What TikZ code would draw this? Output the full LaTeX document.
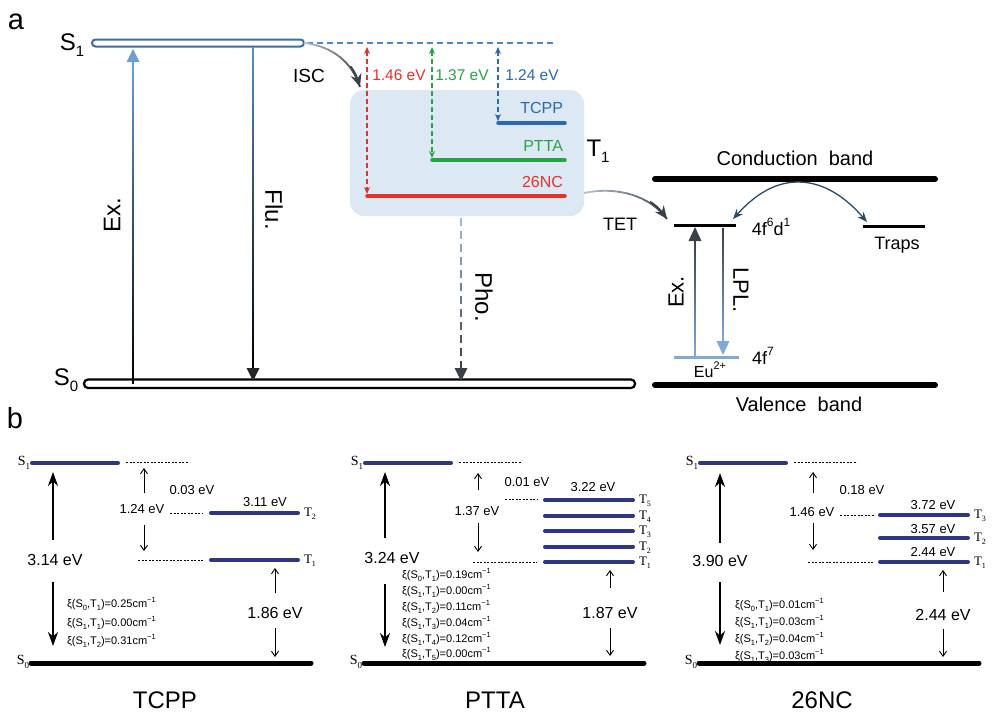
\documentclass[tikz,border=0pt]{standalone}
\usepackage{fontspec}
\setmainfont{Liberation Sans}
\newfontfamily\tnr{Liberation Serif}
\usetikzlibrary{arrows.meta,calc}
\definecolor{sbar}{HTML}{3C6CA5}
\definecolor{dashb}{HTML}{4C88C8}
\definecolor{exb}{HTML}{6AA0D8}
\definecolor{flub}{HTML}{5A8DC8}
\definecolor{boxc}{HTML}{DCE8F4}
\definecolor{cred}{HTML}{E4312C}
\definecolor{cgreen}{HTML}{26A445}
\definecolor{cblue}{HTML}{2B68AE}
\definecolor{navy}{HTML}{2F3585}
\definecolor{arcc}{HTML}{2B4A66}
\definecolor{eub}{HTML}{7EAAD4}
\definecolor{darkg}{HTML}{3A404A}
\definecolor{lightg}{HTML}{B4BEC8}
\definecolor{phob}{HTML}{9DB9D6}
\newcommand{\upx}[2]{\raisebox{0.5em}{\fontsize{#1}{#1}\selectfont #2}}
\newcommand{\dnx}[2]{\raisebox{-0.25em}{\fontsize{#1}{#1}\selectfont #2}}
\newcommand{\xiline}[3]{ξ(S\dnx{7.5}{#1},T\dnx{7.5}{#2})=#3cm\upx{7.5}{−1}}
\tikzset{
  fs/.style={font=\fontsize{#1}{#1}\selectfont},
  lvl/.style={line width=3.5pt, line cap=round},
  darr/.style={line width=1.4pt, dash pattern=on 5pt off 3pt,
    {Stealth[length=7pt,width=6pt]}-{Stealth[length=7pt,width=6pt]}},
  tbar/.style={navy, line width=4pt, line cap=round},
  s0bar/.style={black, line width=5pt, line cap=round},
  fdash/.style={black, line width=0.8pt, dash pattern=on 2.2pt off 1.3pt},
  bigarr/.style={line width=2.2pt, -{Stealth[length=14pt,width=10pt]}},
  smarr/.style={line width=0.9pt, -{Straight Barb[length=5pt,width=7pt]}},
  serlab/.style={font=\tnr\fontsize{14}{14}\selectfont},
  tlab/.style={font=\tnr\fontsize{13}{13}\selectfont, anchor=west},
  xil/.style={font=\fontsize{11}{11}\selectfont, anchor=west},
  ev/.style={fs=13},
  evb/.style={fs=16},
  mol/.style={fs=24}
}
\begin{document}
\begin{tikzpicture}[x=1pt,y=-1pt,inner sep=0pt,outer sep=0pt]
\useasboundingbox (0,0) rectangle (995,720);
\fill[white] (0,0) rectangle (995,720);

%% ---------------- panel a ----------------
\node[fs=29] (la) at (16,22) {a};
\node[fs=24] (s1lab) at (72,45) {S\dnx{15}{1}};
\draw[sbar, line width=2pt, fill=white, rounded corners=3.5pt] (92,39.5) rectangle (304,46.5);
\coordinate (S1e) at (304,43);
\draw[dashb, line width=2pt, dash pattern=on 6pt off 4pt] (307,43) -- (557,43);

% S0 bar
\draw[black, line width=2.2pt, fill=white, rounded corners=4pt] (84,379.5) rectangle (635,388);
\node[fs=24] (s0lab) at (66,380) {S\dnx{15}{0}};

% Ex. (gradient)
\shade[bottom color=black, top color=exb] (132.2,61) rectangle (133.8,383);
\fill[exb] (126.5,62) -- (139.5,62) -- (133,49) -- cycle;
\node[fs=24, rotate=90] (exlab) at (112,215) {Ex.};

% Flu.
\shade[top color=flub, bottom color=black] (252.2,47) rectangle (253.8,369);
\fill[black!85] (246.5,368) -- (259.5,368) -- (253,381) -- cycle;
\node[fs=24, rotate=-90] (flulab) at (274,210) {Flu.};

% ISC curve
\node[fs=19] (isc) at (309,76) {ISC};
\foreach \i in {0,...,9}{
  \pgfmathtruncatemacro\pc{100-\i*10}
  \begin{scope}
    \clip (304+\i*6,30) rectangle (310.5+\i*6,100);
    \draw[line width=1.8pt, lightg!\pc!darkg] (S1e) .. controls (332,46) and (352,62) .. (360,87);
  \end{scope}
}
\begin{scope}
  \clip (350,66) rectangle (380,100);
  \draw[darkg, line width=1.8pt, -{Stealth[length=13pt,width=11pt]}] (S1e) .. controls (332,46) and (352,62) .. (360,87);
\end{scope}

% T1 box
\fill[boxc, rounded corners=14pt] (350,90) rectangle (584,216);
\coordinate (boxr) at (584,193);

% energy gaps
\draw[cred, darr] (367,47) -- (367,194);
\draw[cgreen, darr] (432,47) -- (432,158);
\draw[cblue, darr] (498,47) -- (498,121);
\node[fs=15.5, text=cred] (e146) at (399,75) {1.46 eV};
\node[fs=15.5, text=cgreen] (e137) at (462,75) {1.37 eV};
\node[fs=15.5, text=cblue] (e124) at (532,75) {1.24 eV};

% T1 levels
\draw[cblue, lvl] (498,123) -- (565,123);
\draw[cgreen, lvl] (432,160) -- (565,160);
\draw[cred, lvl] (367,196) -- (565,196);
\node[fs=16, text=cblue, anchor=east] (tcpp) at (563,108) {TCPP};
\node[fs=16, text=cgreen, anchor=east] (ptta) at (563,146) {PTTA};
\node[fs=16, text=cred, anchor=east] (nc) at (563,182) {26NC};
\node[fs=24] (t1lab) at (598,151) {T\dnx{15}{1}};

% Pho. dashed gradient
\foreach \i in {0,...,11}{
  \pgfmathtruncatemacro\pc{100-\i*9}
  \draw[line width=1.5pt, phob!\pc!darkg] (461,218+\i*13) -- (461,226+\i*13);
}
\fill[darkg] (454.5,368) -- (467.5,368) -- (461,381) -- cycle;
\node[fs=24, rotate=-90] (pholab) at (484,297) {Pho.};

% bands
\draw[line width=6pt, line cap=round] (655,179) -- (935,179);
\node[fs=20] (cb) at (795,158) {Conduction\ \ band};
\draw[line width=6pt, line cap=round] (655,385) -- (935,385);
\node[fs=20] (vb) at (799,404) {Valence\ \ band};

% Eu levels
\draw[line width=3pt] (674,225) -- (736,225);
\draw[line width=3pt] (863,226) -- (925,226);
\draw[eub, line width=3pt] (674,357) -- (739,357);
\node[fs=18] (fd) at (771,227) {4f\upx{12}{6}d\upx{12}{1}};
\node[fs=18] (f7) at (763,356) {4f\upx{12}{7}};
\node[fs=16] (eu) at (710,370) {Eu\upx{11}{2+}};
\node[fs=18] (traps) at (897,245) {Traps};
\node[fs=18] (tet) at (620,224) {TET};

% Eu Ex. and LPL.
\shade[bottom color=eub, top color=darkg] (694.2,240) rectangle (695.8,355);
\fill[darkg] (688.5,241) -- (701.5,241) -- (695,227) -- cycle;
\shade[top color=darkg, bottom color=eub] (722.2,228) rectangle (723.8,342);
\fill[eub] (716.5,341) -- (729.5,341) -- (723,355) -- cycle;
\node[fs=22, rotate=90] (exlab2) at (676,292) {Ex.};
\node[fs=22, rotate=-90] (lpl) at (741,290) {LPL.};

% trap arc
\draw[arcc, line width=1.3pt, {Stealth[length=10pt,width=8pt]}-{Stealth[length=10pt,width=8pt]}]
  (733,219) .. controls (752,198) and (772,182) .. (798,182) .. controls (826,182) and (848,200) .. (867,222);

% TET curve
\foreach \i in {0,...,9}{
  \pgfmathtruncatemacro\pc{100-\i*10}
  \begin{scope}
    \clip (584+\i*8.6,170) rectangle (593+\i*8.6,240);
    \draw[line width=1.8pt, lightg!\pc!darkg] (boxr) .. controls (618,186) and (650,196) .. (667,219);
  \end{scope}
}
\begin{scope}
  \clip (650,195) rectangle (690,235);
  \draw[darkg, line width=1.8pt, -{Stealth[length=13pt,width=11pt]}] (boxr) .. controls (618,186) and (650,196) .. (667,219);
\end{scope}

%% ---------------- panel b ----------------
\node[fs=29] (lb) at (15,418) {b};

\newcommand{\pframe}{%
  \node[serlab] at (24,463) {S\dnx{9}{1}};
  \draw[tbar] (32,463) -- (118,463);
  \draw[fdash] (126,462) -- (189,462);
  \draw[s0bar] (31,663) -- (311,663);
  \node[serlab] at (23,662) {S\dnx{9}{0}};
}

% TCPP
\begin{scope}
  \pframe
  \node[ev] at (192,490) {0.03 eV};
  \node[ev] at (142,509) {1.24 eV};
  \draw[fdash] (170,513) -- (203,513);
  \draw[tbar] (211,513) -- (298,513);
  \node[ev] at (265,502) {3.11 eV};
  \node[tlab] at (304,514) {T\dnx{8}{2}};
  \draw[fdash] (138,560) -- (203,560);
  \draw[tbar] (211,560) -- (298,560);
  \node[tlab] at (304,561) {T\dnx{8}{1}};
  \draw[bigarr] (53,540) -- (53,472);
  \draw[bigarr] (53,582) -- (53,646);
  \node[evb] at (55,560) {3.14 eV};
  \draw[smarr] (144,493) -- (144,468);
  \draw[smarr] (144,525) -- (144,551);
  \draw[smarr] (275,593) -- (275,568);
  \draw[smarr] (275,628) -- (275,657);
  \node[evb] at (275,613) {1.86 eV};
  \node[xil] at (67,604) {\xiline{0}{1}{0.25}};
  \node[xil] at (67,623) {\xiline{1}{1}{0.00}};
  \node[xil] at (67,641) {\xiline{1}{2}{0.31}};
  \node[mol] at (165,700) {TCPP};
\end{scope}

% PTTA
\begin{scope}[shift={(333,0)}]
  \pframe
  \node[ev] at (194,482) {0.01 eV};
  \node[ev] at (144,511) {1.37 eV};
  \node[ev] at (260,487) {3.22 eV};
  \draw[fdash] (172,499) -- (205,499);
  \foreach \yy/\k in {500/5,515.5/4,531/3,546.5/2,562/1}{
    \draw[tbar] (212,\yy) -- (300,\yy);
    \node[tlab] at (306,\yy+1) {T\dnx{8}{\k}};
  }
  \draw[fdash] (140,562) -- (204,562);
  \draw[smarr] (145,490) -- (145,473);
  \draw[smarr] (145,523) -- (145,552);
  \draw[bigarr] (52,538) -- (52,472);
  \draw[bigarr] (52,584) -- (52,647);
  \node[evb] at (59,558) {3.24 eV};
  \node[xil] at (69,575) {\xiline{0}{1}{0.19}};
  \node[xil] at (69,591) {\xiline{1}{1}{0.00}};
  \node[xil] at (69,607) {\xiline{1}{2}{0.11}};
  \node[xil] at (69,623) {\xiline{1}{3}{0.04}};
  \node[xil] at (69,639) {\xiline{1}{4}{0.12}};
  \node[xil] at (69,654) {\xiline{1}{5}{0.00}};
  \draw[smarr] (277,588) -- (277,570);
  \draw[smarr] (277,628) -- (277,656);
  \node[evb] at (277,613) {1.87 eV};
  \node[mol] at (162,700) {PTTA};
\end{scope}

% 26NC
\begin{scope}[shift={(668,0)}]
  \pframe
  \node[ev] at (194,490) {0.18 eV};
  \node[ev] at (144,512) {1.46 eV};
  \draw[fdash] (172,515) -- (207,515);
  \foreach \yy/\k in {515/3,538/2,562/1}{
    \draw[tbar] (212,\yy) -- (300,\yy);
    \node[tlab] at (306,\yy+1) {T\dnx{8}{\k}};
  }
  \node[ev] at (265,505) {3.72 eV};
  \node[ev] at (265,529) {3.57 eV};
  \node[ev] at (265,552) {2.44 eV};
  \draw[fdash] (140,562) -- (205,562);
  \draw[smarr] (145,493) -- (145,472);
  \draw[smarr] (145,523) -- (145,550);
  \draw[bigarr] (52,543) -- (52,473);
  \draw[bigarr] (52,582) -- (52,645);
  \node[evb] at (52,561) {3.90 eV};
  \node[xil] at (67,605) {\xiline{0}{1}{0.01}};
  \node[xil] at (67,622) {\xiline{1}{1}{0.03}};
  \node[xil] at (67,639) {\xiline{1}{2}{0.04}};
  \node[xil] at (67,656) {\xiline{1}{3}{0.03}};
  \draw[smarr] (275,592) -- (275,570);
  \draw[smarr] (275,629) -- (275,657);
  \node[evb] at (275,615) {2.44 eV};
  \node[mol] at (154,700) {26NC};
\end{scope}
\end{tikzpicture}
\end{document}
